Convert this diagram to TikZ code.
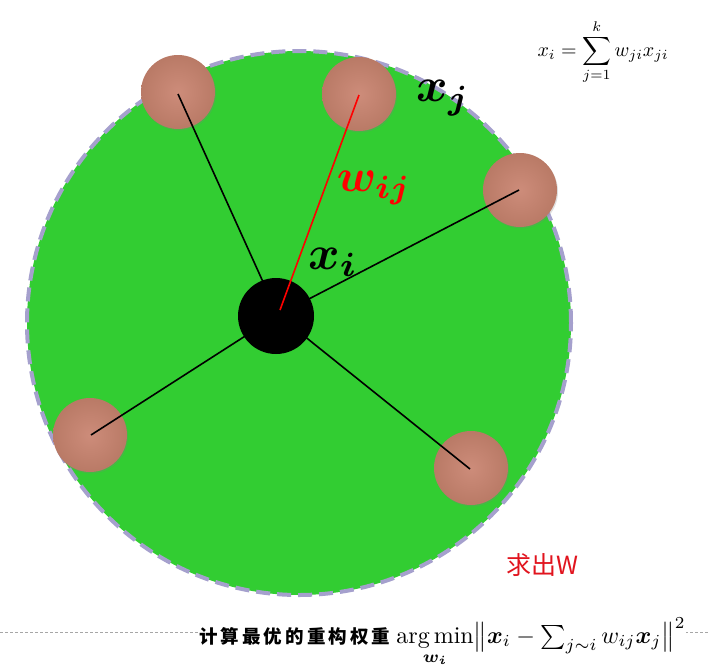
\documentclass[tikz,border=0pt]{standalone}
\usepackage{amsmath,bm}
\usepackage{graphicx}
\usepackage{fontspec}
\newfontfamily\cjk{Noto Sans CJK SC}
\usetikzlibrary{shadows}
\definecolor{ballgreen}{RGB}{50,205,50}
\definecolor{rim}{RGB}{165,160,205}
\definecolor{brownin}{RGB}{205,140,122}
\definecolor{brownout}{RGB}{185,122,102}
\definecolor{redtxt}{RGB}{225,20,30}
\tikzset{
  neighbor/.style={circle,minimum size=74pt,inner sep=0pt,inner color=brownin,outer color=brownout,
    drop shadow={shadow xshift=1pt,shadow yshift=-1.5pt,opacity=0.25}},
  edge/.style={line width=1.6pt,black},
  wedge/.style={line width=1.6pt,red},
  biglabel/.style={inner sep=0pt}
}
\begin{document}
\begin{tikzpicture}[x=1pt,y=-1pt]
\useasboundingbox (0,0) rectangle (710,670);
% big circle
\node[circle,minimum size=544pt,inner sep=0pt,fill=ballgreen,draw=rim,line width=4pt,dash pattern=on 14pt off 7pt] (big) at (299,323) {};
% neighbours
\node[neighbor] (n1) at (178,92) {};
\node[neighbor] (n2) at (359,94) {};
\node[neighbor] (n3) at (520,190) {};
\node[neighbor] (n4) at (90,435) {};
\node[neighbor] (n5) at (471,468) {};
\coordinate (c1) at (178,94);
\coordinate (c2) at (359,95);
\coordinate (c3) at (519,190);
\coordinate (c4) at (91,435);
\coordinate (c5) at (470,469);
\coordinate (ci) at (278,315);
\draw[edge] (ci) -- (c1);
\draw[edge] (ci) -- (c3);
\draw[edge] (ci) -- (c4);
\draw[edge] (ci) -- (c5);
% center
\node[circle,minimum size=76pt,inner sep=0pt,fill=black] (xi) at (276,316) {};
\draw[wedge] (280,310) -- (c2);
% labels
\node[biglabel] (lj) at (443,98) {\scalebox{4.8}{$\bm{x}_{\bm{j}}$}};
\node[biglabel,text=red] (lw) at (374,188) {\scalebox{4.6}{$\bm{w}_{\bm{ij}}$}};
\node[biglabel] (li) at (333,262) {\scalebox{4.8}{$\bm{x}_{\bm{i}}$}};
% top-right formula
\node[inner sep=0pt] (f1) at (603,52) {\scalebox{2.0}{$x_i=\displaystyle\sum_{j=1}^{k} w_{ji}x_{ji}$}};
% red text
\node[inner sep=0pt,text=redtxt,font=\cjk\fontsize{25}{27}\selectfont] (qw) at (542,565) {求出W};
% dashed line
\coordinate (dl) at (0,632);
\coordinate (dr) at (710,632);
\draw[gray!70,line width=0.8pt,dash pattern=on 3pt off 2pt] (dl) -- (dr);
% bottom formula
\node[anchor=base west,inner sep=0pt,fill=white] (bf) at (199,643)
  {{\cjk\bfseries\fontsize{18.5}{20}\selectfont 计\,算\,最\,优\,的\,重\,构\,权\,重}\hspace{6pt}\scalebox{2.4}{$\displaystyle\mathop{\arg\min}_{\bm{w}_{\bm i}}\bigl\|\bm{x}_i-\textstyle\sum_{j\sim i}w_{ij}\bm{x}_j\bigr\|^2$}};
\end{tikzpicture}
\end{document}
